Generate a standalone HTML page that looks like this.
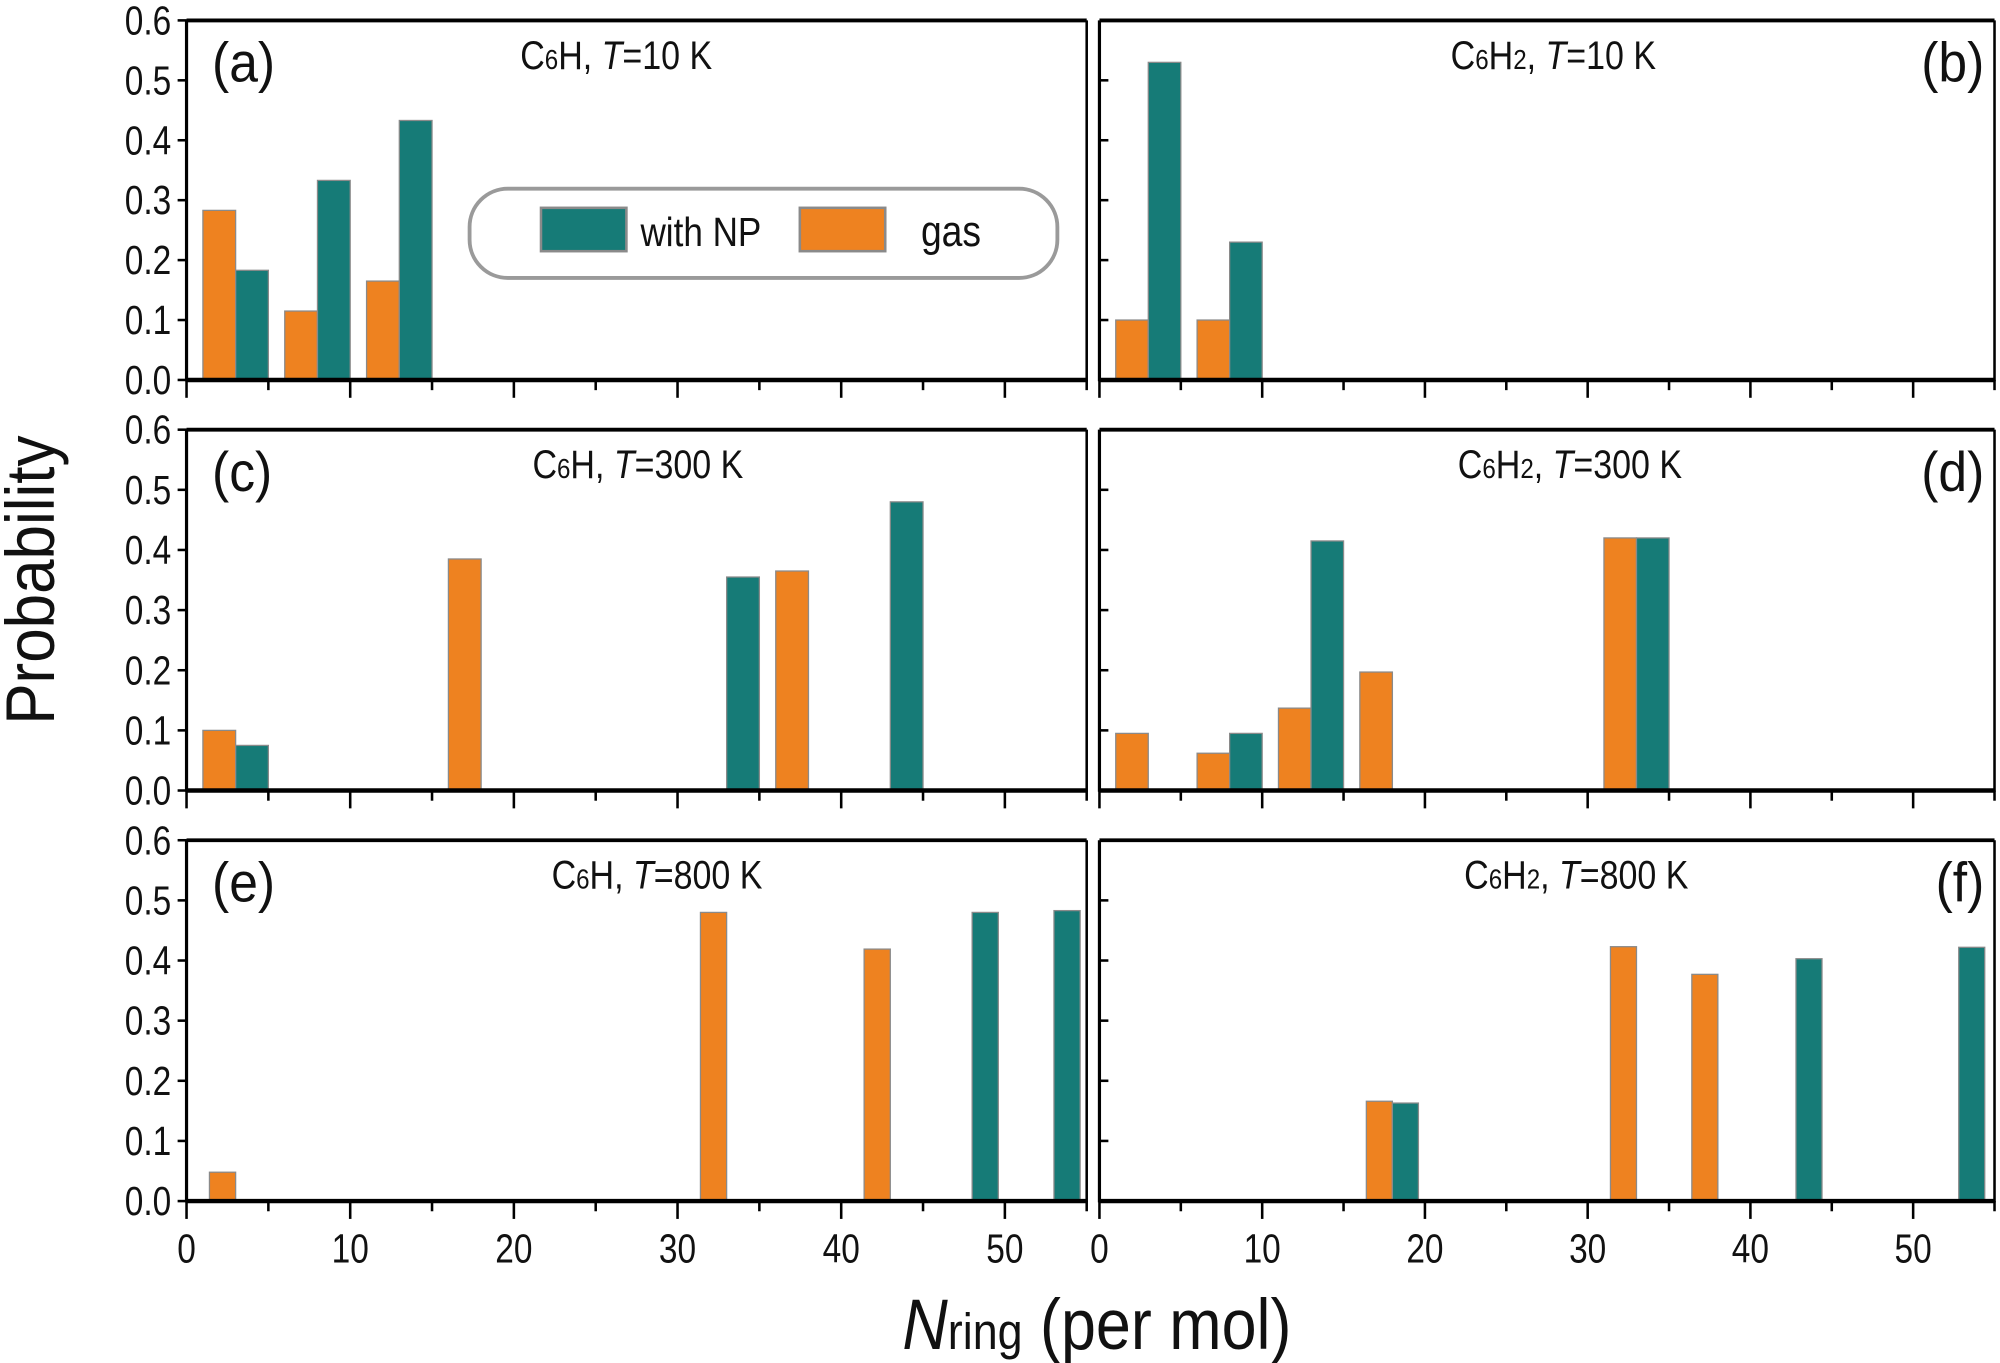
<!DOCTYPE html>
<html><head><meta charset="utf-8"><style>
html,body{margin:0;padding:0;background:#fff}
svg{display:block}
text{font-family:"Liberation Sans",Arial,sans-serif;fill:#111}
</style></head><body>
<svg id="chart" width="2000" height="1363" viewBox="0 0 1568 1069" xmlns="http://www.w3.org/2000/svg">
<rect x="0" y="0" width="1568" height="1069" fill="#fff"/>
<g id="layer"></g>
</svg>
<script>
// ---- data ----
const panelIds = ['a','b','c','d','e','f'];
const panelTitles = [['C','6','H','10'],['C','6','H2','10'],['C','6','H','300'],['C','6','H2','300'],['C','6','H','800'],['C','6','H2','800']];
const gasX_a = [2, 7, 12];        const gasY_a = [0.283, 0.115, 0.165];
const npX_a  = [4, 9, 14];        const npY_a  = [0.183, 0.333, 0.433];
const gasX_b = [2, 7];            const gasY_b = [0.1, 0.1];
const npX_b  = [4, 9];            const npY_b  = [0.53, 0.23];
const gasX_c = [2, 17, 37];       const gasY_c = [0.1, 0.385, 0.365];
const npX_c  = [4, 34, 44];       const npY_c  = [0.075, 0.355, 0.48];
const gasX_d = [2, 7, 12, 17, 32];const gasY_d = [0.095, 0.062, 0.137, 0.197, 0.42];
const npX_d  = [9, 14, 34];       const npY_d  = [0.095, 0.415, 0.42];
const gasX_e = [2.2, 32.2, 42.2]; const gasY_e = [0.048, 0.48, 0.419];
const npX_e  = [48.8, 53.8];      const npY_e  = [0.48, 0.483];
const gasX_f = [17.2, 32.2, 37.2];const gasY_f = [0.166, 0.423, 0.377];
const npX_f  = [18.8, 43.6, 53.6];const npY_f  = [0.163, 0.403, 0.422];
const barWidths = [2, 2, 2, 2, 1.6, 1.6];
const yTicks = [0, 0.1, 0.2, 0.3, 0.4, 0.5, 0.6];
const yTickLabels = ['0.0','0.1','0.2','0.3','0.4','0.5','0.6'];
const xTicks = [0, 10, 20, 30, 40, 50];
const xTickLabels = ['0','10','20','30','40','50'];
const X_MAX = 55, Y_MAX = 0.6;

const gasX = [gasX_a,gasX_b,gasX_c,gasX_d,gasX_e,gasX_f];
const gasY = [gasY_a,gasY_b,gasY_c,gasY_d,gasY_e,gasY_f];
const npX = [npX_a,npX_b,npX_c,npX_d,npX_e,npX_f];
const npY = [npY_a,npY_b,npY_c,npY_d,npY_e,npY_f];

const NS = 'http://www.w3.org/2000/svg';
const layer = document.getElementById('layer');
function mk(tag, attrs, parent){
  const e = document.createElementNS(NS, tag);
  for (const k in attrs) e.setAttribute(k, attrs[k]);
  (parent||layer).appendChild(e);
  return e;
}
function txt(x, y, s, size, anchor, parent, sx){
  const t = mk('text', {transform:`translate(${x},${y}) scale(${sx||0.82},1)`, 'font-size':size, 'text-anchor':anchor||'start'}, parent);
  t.textContent = s;
  return t;
}
const cols = [[146,852],[862,1564]];
const rows = [[16,298],[337,620],[659,942]];
const TEAL = '#167b77', ORANGE = '#ee8220';

panelIds.forEach((id, i) => {
  const c = cols[i % 2], r = rows[Math.floor(i / 2)];
  const xs = v => c[0] + v * (c[1] - c[0]) / X_MAX;
  const ys = v => r[1] - v * (r[1] - r[0]) / Y_MAX;
  const g = mk('g', {});
  
  
  const w = barWidths[i];
  const drawBars = (X, Y, color, name) => {
    X.forEach((xv, k) => {
      const b = mk('rect', {x: xs(xv - w/2), y: ys(Y[k]), width: xs(xv + w/2) - xs(xv - w/2), height: ys(0) - ys(Y[k]), fill: color, stroke: '#8a8a8a', 'stroke-width': 1}, g);
      
      
    });
  };
  drawBars(gasX[i], gasY[i], ORANGE, 'gas');
  drawBars(npX[i], npY[i], TEAL, 'np');
  mk('line', {x1:c[0], y1:r[0], x2:c[1], y2:r[0], stroke:'#000', 'stroke-width':3}, g);
  mk('line', {x1:c[0], y1:r[1], x2:c[1], y2:r[1], stroke:'#000', 'stroke-width':3.5}, g);
  mk('line', {x1:c[0], y1:r[0], x2:c[0], y2:r[1]+1, stroke:'#000', 'stroke-width':2.5}, g);
  mk('line', {x1:c[1], y1:r[0], x2:c[1], y2:r[1]+1, stroke:'#000', 'stroke-width':2}, g);
  yTicks.forEach((v, k) => {
    if (i % 2 === 0) {
      mk('line', {x1:c[0]-7, y1:ys(v), x2:c[0], y2:ys(v), stroke:'#000', 'stroke-width':2}, g);
      const t = txt(c[0]-12, ys(v)+11, yTickLabels[k], 32, 'end', g);
      
      
    } else if (v > 0 && v < 0.6) {
      mk('line', {x1:c[0], y1:ys(v), x2:c[0]+7, y2:ys(v), stroke:'#000', 'stroke-width':2}, g);
    }
  });
  for (let v = 0; v <= 55; v += 5) {
    const major = v % 10 === 0;
    mk('line', {x1:xs(v), y1:r[1], x2:xs(v), y2:r[1] + (major ? 14 : 8), stroke:'#000', 'stroke-width':2}, g);
  }
  if (i >= 4) {
    xTicks.forEach((v, k) => {
      const t = txt(xs(v), r[1] + 48, xTickLabels[k], 32, 'middle', g);
      
      
    });
  }
  const pt = panelTitles[i];
  const cx = (i % 2 === 0) ? [483, 500, 515][Math.floor(i/2)] : [1218, 1231, 1236][Math.floor(i/2)];
  const tt = mk('text', {transform:`translate(${cx},${r[0]+38}) scale(0.86,1)`, 'font-size':31, 'text-anchor':'middle'}, g);
  
  
  const hpart = pt[2] === 'H2' ? 'H<tspan font-size="22">2</tspan>' : 'H';
  tt.innerHTML = `C<tspan font-size="22">6</tspan>${hpart}, <tspan font-style="italic">T</tspan>=${pt[3]} K`;
  const lab = (i % 2 === 0) ? txt(c[0]+20, r[0]+48, '(' + id + ')', 44, 'start', g, 0.92) : txt(c[1]-8, r[0]+48, '(' + id + ')', 44, 'end', g, 0.92);
  
  
});

const lg = mk('g', {});


mk('rect', {x:368, y:148, width:461, height:70, rx:30, fill:'#fff', stroke:'#9a9a9a', 'stroke-width':3}, lg);
const s1 = mk('rect', {x:424, y:163, width:67, height:34, fill:TEAL, stroke:'#8a8a8a', 'stroke-width':2}, lg);


const l1 = txt(502, 193, 'with NP', 32, 'start', lg, 0.86);


const s2 = mk('rect', {x:627, y:163, width:67, height:34, fill:ORANGE, stroke:'#8a8a8a', 'stroke-width':2}, lg);


const l2 = txt(722, 193, 'gas', 34, 'start', lg, 0.86);



const yt = mk('text', {transform:'translate(42,455) rotate(-90) scale(0.9,1)', 'font-size':54, 'text-anchor':'middle'});
yt.textContent = 'Probability';


const xt = mk('text', {transform:'translate(860,1058) scale(0.88,1)', 'font-size':56, 'text-anchor':'middle'});
xt.innerHTML = '<tspan font-style="italic">N</tspan><tspan font-size="40">ring</tspan> (per mol)';


</script>
</body></html>
